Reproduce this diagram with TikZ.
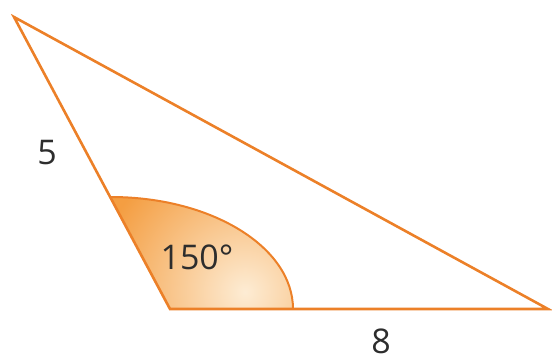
\documentclass[tikz,border=0pt]{standalone}
\usepackage{fontspec}
\setmainfont{Open Sans}
\definecolor{edge}{RGB}{236,128,40}
\definecolor{fillA}{RGB}{244,158,66}
\definecolor{fillB}{RGB}{253,236,212}
\definecolor{txt}{RGB}{45,45,45}
\tikzset{
  side/.style={draw=edge, line width=2.6pt, line join=miter},
  lbl/.style={text=txt, font=\fontsize{34}{40}\selectfont, inner sep=0pt},
}
\begin{document}
\begin{tikzpicture}[x=1pt,y=-1pt]
\useasboundingbox (0,0) rectangle (552,360);
\coordinate (A) at (14,17);
\coordinate (B) at (170,309);
\coordinate (C) at (548,309);
\coordinate (E) at (293,309);
% angle sector
\begin{scope}
\clip (B) -- (E) arc[start angle=0, end angle=-90, x radius=182, y radius=112] -- cycle;
\fill[fillA] (B) circle (250);
\shade[inner color=fillB, outer color=fillA] (245,292) circle (150);
\end{scope}
\draw[edge, line width=2pt] (E) arc[start angle=0, end angle=-90, x radius=182, y radius=112];
\draw[side] (A) -- (B) -- (C) -- cycle;
\node[lbl] (ang) at (197,257) {150°};
\node[lbl] (a) at (47,153) {5};
\node[lbl] (b) at (381,341) {8};
\end{tikzpicture}
\end{document}
